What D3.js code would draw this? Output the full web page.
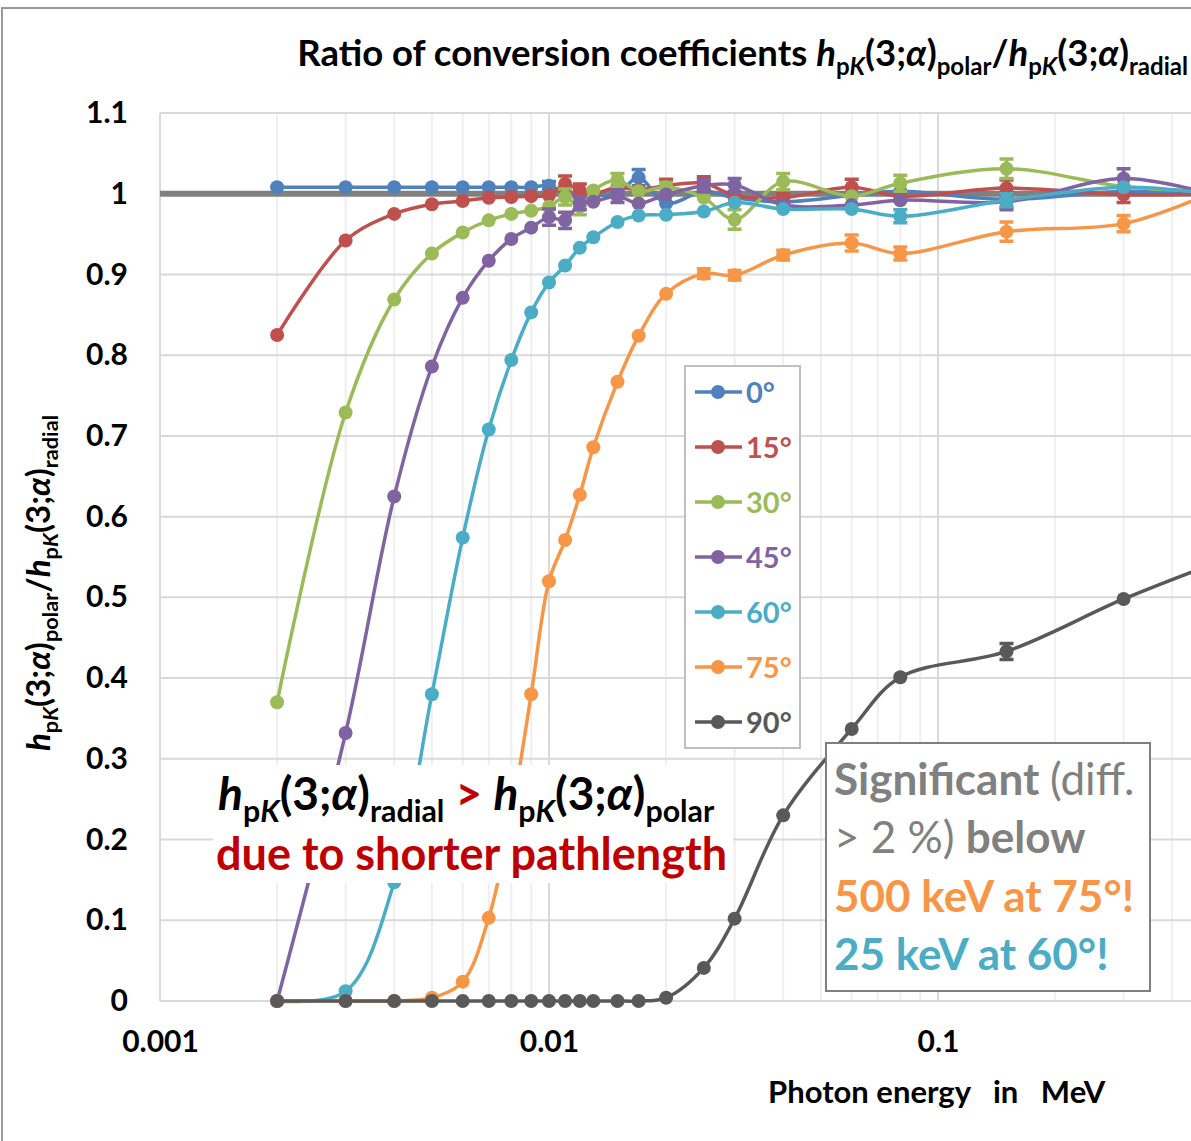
<!DOCTYPE html>
<html>
<head>
<meta charset="utf-8">
<script src="https://cdn.jsdelivr.net/npm/d3@7"></script>
<style>
  body { margin: 0; background: #fff; }
  text { font-family: Lato, "Open Sans", sans-serif; }
</style>
</head>
<body>
<svg width="1191" height="1141"></svg>
<script>
// photon energies in MeV (same for every angle)
var energies = [0.002, 0.003, 0.004, 0.005, 0.006, 0.007, 0.008, 0.009, 0.01, 0.011, 0.012, 0.013,
  0.015, 0.017, 0.02, 0.025, 0.03, 0.04, 0.06, 0.08, 0.15, 0.3, 0.5];

var angles = ["0°", "15°", "30°", "45°", "60°", "75°", "90°"];

var ratio0 = [1.008, 1.008, 1.008, 1.008, 1.008, 1.008, 1.008, 1.008, 1.010, 1.0, 0.998, 0.998,
  1.0, 1.02, 0.988, 1.003, 0.995, 0.99, 0.998, 1.003, 0.993, 1.003, 1.0];
var ratio15 = [0.825, 0.942, 0.975, 0.987, 0.991, 0.995, 0.996, 0.997, 0.998, 1.012, 1.004, 1.0,
  1.008, 1.005, 1.01, 1.013, 0.998, 0.995, 1.008, 0.997, 1.007, 0.999, 1.0];
var ratio30 = [0.37, 0.729, 0.869, 0.926, 0.952, 0.967, 0.975, 0.979, 0.984, 0.996, 0.984, 1.004,
  1.017, 1.003, 1.008, 0.995, 0.968, 1.015, 0.997, 1.013, 1.031, 1.009, 1.003];
var ratio45 = [0, 0.332, 0.625, 0.786, 0.871, 0.917, 0.944, 0.958, 0.971, 0.967, 0.988, 0.99,
  0.997, 0.988, 0.999, 1.01, 1.011, 0.986, 0.986, 0.992, 0.99, 1.019, 1.0];
var ratio60 = [0, 0.012, 0.147, 0.38, 0.574, 0.708, 0.794, 0.853, 0.89, 0.911, 0.933, 0.946,
  0.965, 0.973, 0.974, 0.978, 0.989, 0.981, 0.981, 0.972, 0.992, 1.008, 1.0];
var ratio75 = [0, 0, 0, 0.004, 0.024, 0.103, 0.23, 0.38, 0.52, 0.571, 0.627, 0.686,
  0.767, 0.824, 0.876, 0.901, 0.899, 0.924, 0.939, 0.926, 0.953, 0.963, 1.0];
var ratio90 = [0, 0, 0, 0, 0, 0, 0, 0, 0, 0, 0, 0,
  0, 0, 0.004, 0.041, 0.102, 0.23, 0.337, 0.401, 0.433, 0.498, 0.54];

// statistical uncertainties (shown as error bars)
var err0 = [0, 0, 0, 0, 0, 0, 0, 0, 0.005, 0, 0, 0, 0, 0.01, 0, 0, 0, 0, 0, 0, 0.01, 0, 0];
var err15 = [0, 0, 0, 0, 0, 0, 0, 0, 0, 0.01, 0.008, 0, 0, 0, 0.008, 0.008, 0, 0.006, 0.01, 0.006, 0.01, 0.01, 0];
var err30 = [0, 0, 0, 0, 0, 0, 0, 0, 0, 0.01, 0.01, 0, 0.008, 0, 0.006, 0, 0.012, 0.01, 0, 0.01, 0.012, 0, 0];
var err45 = [0, 0, 0, 0, 0, 0, 0, 0, 0.01, 0.01, 0.008, 0, 0.008, 0, 0, 0.008, 0.008, 0, 0, 0, 0.01, 0.012, 0];
var err60 = [0, 0, 0, 0, 0, 0, 0, 0, 0, 0, 0, 0, 0, 0, 0, 0, 0, 0, 0, 0.008, 0.008, 0, 0];
var err75 = [0, 0, 0, 0, 0, 0, 0, 0, 0, 0, 0, 0, 0, 0, 0, 0.006, 0.006, 0.006, 0.01, 0.008, 0.012, 0.01, 0];
var err90 = [0, 0, 0, 0, 0, 0, 0, 0, 0, 0, 0, 0, 0, 0, 0, 0, 0, 0, 0, 0, 0.01, 0, 0];

var yTicks = [0, 0.1, 0.2, 0.3, 0.4, 0.5, 0.6, 0.7, 0.8, 0.9, 1, 1.1];
var xTicks = [0.001, 0.01, 0.1];

var colors = ["#4f81bd", "#c0504d", "#9bbb59", "#8064a2", "#4bacc6", "#f79646", "#595959"];
var ratios = [ratio0, ratio15, ratio30, ratio45, ratio60, ratio75, ratio90];
var errs = [err0, err15, err30, err45, err60, err75, err90];

var series = angles.map(function (a, i) {
  return {
    name: a,
    color: colors[i],
    values: energies.map(function (e, j) {
      return { e: e, v: ratios[i][j], err: errs[i][j] };
    })
  };
});

var svg = d3.select("svg");
var plotLeft = 160, plotTop = 113, plotBottom = 1001;

var x = d3.scaleLog().domain([0.001, 1]).range([plotLeft, plotLeft + 3 * 389]);
var y = d3.scaleLinear().domain([0, 1.1]).range([plotBottom, plotTop]);

// outer chart border
svg.append("path")
  .attr("d", "M2,1141 V8 H1191")
  .attr("fill", "none")
  .attr("stroke", "#9a9a9a")
  .attr("stroke-width", 2);

// gridlines
var minor = [];
[0.001, 0.01, 0.1].forEach(function (d) {
  for (var k = 2; k <= 9; k++) minor.push(d * k);
});
svg.append("g").selectAll("line")
  .data(minor)
  .enter().append("line")
  .attr("x1", function (d) { return x(d); })
  .attr("x2", function (d) { return x(d); })
  .attr("y1", plotTop).attr("y2", plotBottom)
  .attr("stroke", "#efefef").attr("stroke-width", 2);

svg.append("g").selectAll("line")
  .data(xTicks.concat([1]))
  .enter().append("line")
  .attr("x1", function (d) { return x(d); })
  .attr("x2", function (d) { return x(d); })
  .attr("y1", plotTop).attr("y2", plotBottom)
  .attr("stroke", "#d9d9d9").attr("stroke-width", 2);

svg.append("g").selectAll("line")
  .data(yTicks)
  .enter().append("line")
  .attr("x1", plotLeft).attr("x2", 1191)
  .attr("y1", function (d) { return y(d); })
  .attr("y2", function (d) { return y(d); })
  .attr("stroke", "#d9d9d9").attr("stroke-width", 2);

// axes (labels only)
var yAxis = svg.append("g")
  .attr("transform", "translate(" + plotLeft + ",0)")
  .call(d3.axisLeft(y).tickValues(yTicks).tickSize(0).tickPadding(32)
    .tickFormat(function (d) { return d3.format("~g")(d); }));
yAxis.select(".domain").remove();
yAxis.selectAll("text").attr("font-size", "30px").attr("font-weight", "bold").attr("fill", "#000")
  .attr("font-family", "Lato");

var xAxis = svg.append("g")
  .attr("transform", "translate(0," + plotBottom + ")")
  .call(d3.axisBottom(x).tickValues(xTicks).tickSize(0).tickPadding(30)
    .tickFormat(function (d) { return String(d); }));
xAxis.select(".domain").remove();
xAxis.selectAll("text").attr("font-size", "30px").attr("font-weight", "bold").attr("fill", "#000")
  .attr("font-family", "Lato");

// reference line at 1
svg.append("line")
  .attr("x1", plotLeft).attr("x2", 1191)
  .attr("y1", y(1)).attr("y2", y(1))
  .attr("stroke", "#808080").attr("stroke-width", 6);

// series
var line = d3.line()
  .x(function (d) { return x(d.e); })
  .y(function (d) { return y(d.v); })
  .curve(d3.curveCatmullRom.alpha(0.5));

var gs = svg.append("g").selectAll("g")
  .data(series)
  .enter().append("g");

gs.append("path")
  .attr("d", function (d) { return line(d.values); })
  .attr("fill", "none")
  .attr("stroke", function (d) { return d.color; })
  .attr("stroke-width", 3.5);

gs.each(function (s) {
  var g = d3.select(this);
  var eb = s.values.filter(function (d) { return d.err > 0; });
  g.selectAll(".eb").data(eb).enter().append("path")
    .attr("class", "eb")
    .attr("d", function (d) {
      var xx = x(d.e), y1 = y(d.v + d.err), y2 = y(d.v - d.err);
      return "M" + xx + "," + y1 + "V" + y2 + "M" + (xx - 7) + "," + y1 + "H" + (xx + 7) +
        "M" + (xx - 7) + "," + y2 + "H" + (xx + 7);
    })
    .attr("stroke", s.color).attr("stroke-width", 3.5).attr("fill", "none");
  g.selectAll("circle").data(s.values).enter().append("circle")
    .attr("cx", function (d) { return x(d.e); })
    .attr("cy", function (d) { return y(d.v); })
    .attr("r", 7)
    .attr("fill", s.color);
});

// rich text helper: parts = [text, options]
function rich(sel, parts, size) {
  var inSub = false;
  parts.forEach(function (p) {
    var o = p[1] || {};
    var t = sel.append("tspan").text(p[0]);
    if (o.sub && !inSub) { t.attr("dy", size * 0.25); inSub = true; }
    if (!o.sub && inSub) { t.attr("dy", -size * 0.25); inSub = false; }
    t.attr("font-size", (o.sub ? size * 0.66 : size) + "px");
    if (o.it) t.attr("font-style", "italic");
    if (o.fill) t.attr("fill", o.fill);
    if (o.normal) t.attr("font-weight", "normal");
  });
}

function hpk(suffix) {
  return [["h", { it: true }], ["p", { sub: true }], ["K", { sub: true, it: true }],
    ["(3;"], ["α", { it: true }], [")"], [suffix, { sub: true }]];
}

// title
var title = svg.append("text")
  .attr("x", 1188).attr("y", 66)
  .attr("text-anchor", "end")
  .attr("font-weight", "bold").attr("fill", "#000");
rich(title, [["Ratio of conversion coefficients "]].concat(hpk("polar"), [["/"]], hpk("radial")), 36.5);

// y axis title
var yt = svg.append("text")
  .attr("transform", "translate(50,583) rotate(-90)")
  .attr("text-anchor", "middle")
  .attr("font-weight", "bold").attr("fill", "#000");
rich(yt, hpk("polar").concat([["/"]], hpk("radial")), 33);

// x axis title
svg.append("text")
  .attr("x", 768).attr("y", 1103)
  .attr("font-size", "31px").attr("font-weight", "bold")
  .style("white-space", "pre")
  .text("Photon energy   in   MeV");

// legend
var lg = svg.append("g");
lg.append("rect")
  .attr("x", 685).attr("y", 366).attr("width", 115).attr("height", 382)
  .attr("fill", "#fff").attr("stroke", "#bfbfbf").attr("stroke-width", 2);
var li = lg.selectAll("g.item").data(series).enter().append("g")
  .attr("transform", function (d, i) { return "translate(0," + (392 + 55 * i) + ")"; });
li.append("line").attr("x1", 695).attr("x2", 742)
  .attr("stroke", function (d) { return d.color; }).attr("stroke-width", 3.5);
li.append("circle").attr("cx", 718).attr("r", 7).attr("fill", function (d) { return d.color; });
li.append("text").attr("x", 746).attr("y", 11)
  .attr("font-size", "29px").attr("font-weight", "bold")
  .attr("fill", function (d) { return d.color; })
  .text(function (d) { return d.name; });

// annotation: radial > polar
svg.append("rect").attr("x", 213).attr("y", 765).attr("width", 520).attr("height", 118).attr("fill", "#fff");
var a1 = svg.append("text").attr("x", 218).attr("y", 810)
  .attr("font-weight", "bold").attr("fill", "#000");
rich(a1, hpk("radial").concat([[" > ", { fill: "#c00000" }]], hpk("polar")), 46);
svg.append("text").attr("x", 216).attr("y", 870)
  .attr("font-size", "45px").attr("font-weight", "bold").attr("fill", "#c00000")
  .text("due to shorter pathlength");

// annotation: significance box
svg.append("rect").attr("x", 826).attr("y", 743).attr("width", 324).attr("height", 248)
  .attr("fill", "#fff").attr("stroke", "#7f7f7f").attr("stroke-width", 2);
var l1 = svg.append("text").attr("x", 834).attr("y", 795).attr("font-weight", "bold").attr("fill", "#808080");
rich(l1, [["Significant "], ["(diff.", { normal: true }]], 44);
var l2 = svg.append("text").attr("x", 834).attr("y", 853).attr("font-weight", "bold").attr("fill", "#808080")
  .style("white-space", "pre");
rich(l2, [["> 2 %) ", { normal: true }], ["below"]], 44);
svg.append("text").attr("x", 834).attr("y", 912).attr("font-size", "44px").attr("font-weight", "bold")
  .attr("fill", "#f79646").text("500 keV at 75°!");
svg.append("text").attr("x", 834).attr("y", 970).attr("font-size", "44px").attr("font-weight", "bold")
  .attr("fill", "#4bacc6").text("25 keV at 60°!");
</script>
</body>
</html>
